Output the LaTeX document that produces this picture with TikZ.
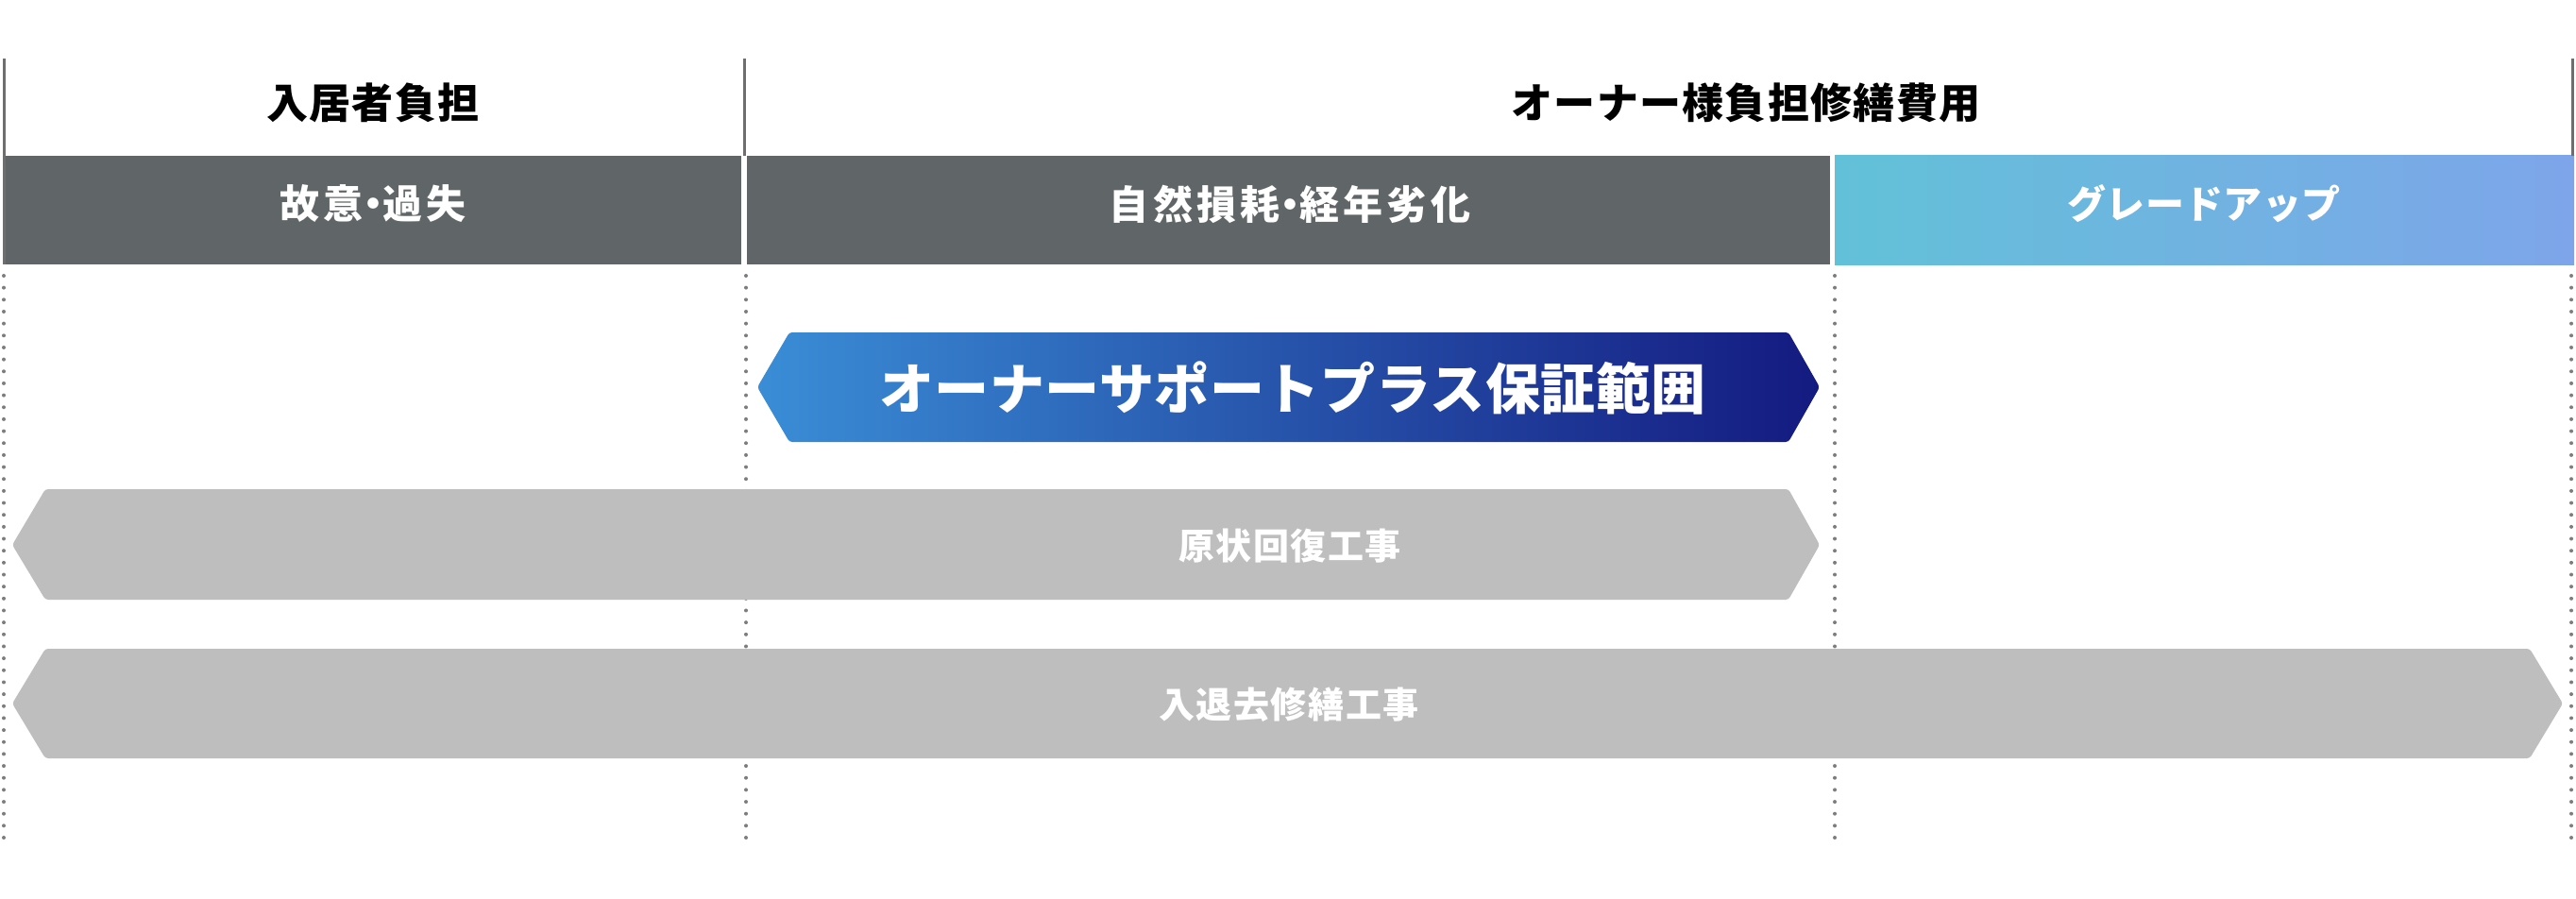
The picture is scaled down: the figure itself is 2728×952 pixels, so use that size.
\documentclass[tikz,border=0pt]{standalone}
\usepackage{fontspec}
\newfontfamily\jpfont{Noto Sans CJK JP}
\definecolor{bandgray}{RGB}{96,102,103}
\definecolor{arrowgray}{RGB}{190,190,190}
\definecolor{dotgray}{RGB}{125,125,125}
\definecolor{linegray}{RGB}{110,110,110}
\definecolor{gradL}{RGB}{98,193,216}
\definecolor{gradR}{RGB}{126,165,234}
\definecolor{blueL}{RGB}{58,141,214}
\definecolor{blueR}{RGB}{20,26,128}
\newcommand{\halfdot}{\kern-0.25em・\kern-0.25em}
\tikzset{
  hdrtext/.style={inner sep=0pt, text=black, font={\jpfont\bfseries\fontsize{22}{26}\selectfont\addfontfeature{LetterSpace=3}}},
  bandtext/.style={inner sep=0pt, text=white, font={\jpfont\bfseries\fontsize{21}{25}\selectfont\addfontfeature{LetterSpace=10}}},
  gradetext/.style={inner sep=0pt, text=white, font={\jpfont\bfseries\fontsize{20.5}{24}\selectfont\addfontfeature{LetterSpace=1}}},
  bigtext/.style={inner sep=0pt, text=white, font={\jpfont\bfseries\fontsize{29}{34}\selectfont\addfontfeature{LetterSpace=1}}},
  worktext/.style={inner sep=0pt, text=white, font={\jpfont\bfseries\fontsize{19}{23}\selectfont\addfontfeature{LetterSpace=4}}},
  topline/.style={draw=linegray, line width=1.5pt},
  dotline/.style={draw=dotgray, line width=2pt, line cap=round, dash pattern=on 0pt off 6.33pt},
  hexshape/.style={rounded corners=1.5pt},
}
\begin{document}
\begin{tikzpicture}[x=0.5pt, y=-0.5pt]
\useasboundingbox (0,0) rectangle (2728,952);
\fill[white] (0,0) rectangle (2728,952);
% dotted guides
\draw[dotline] (4,292) -- (4,897);
\draw[dotline] (790,292) -- (790,897);
\draw[dotline] (1943,292) -- (1943,897);
\draw[dotline] (2723,292) -- (2723,897);
% bands
\fill[bandgray] (5,165) rectangle (785,280);
\fill[bandgray] (791,165) rectangle (1938,280);
\shade[left color=gradL, right color=gradR] (1943,165) rectangle (2726,280);
% top lines
\draw[topline] (4,62) -- (4,280);
\draw[topline] (788,62) -- (788,165);
\draw[topline] (2724,62) -- (2724,165);
% blue hexagon
\shade[hexshape, left color=blueL, right color=blueR]
  (802,410) -- (836,352) -- (1894,352) -- (1927,410) -- (1894,468) -- (836,468) -- cycle;
% gray arrows
\fill[hexshape, arrowgray]
  (13,577) -- (48,518) -- (1894,518) -- (1927,577) -- (1894,635) -- (48,635) -- cycle;
\fill[hexshape, arrowgray]
  (13,745) -- (48,687) -- (2679,687) -- (2714,745) -- (2679,803) -- (48,803) -- cycle;
% texts
\node[hdrtext] (tenant) at (395,109) {入居者負担};
\node[hdrtext] (owner) at (1849,109) {オーナー様負担修繕費用};
\node[bandtext] (fault) at (395,216) {故意\halfdot 過失};
\node[bandtext] (wear) at (1366,216) {自然損耗\halfdot 経年劣化};
\node[gradetext] (grade) at (2334,216) {グレードアップ};
\node[bigtext] (support) at (1369,411) {オーナーサポートプラス保証範囲};
\node[worktext] (restore) at (1366,578) {原状回復工事};
\node[worktext] (moveout) at (1365,746) {入退去修繕工事};
\end{tikzpicture}
\end{document}
